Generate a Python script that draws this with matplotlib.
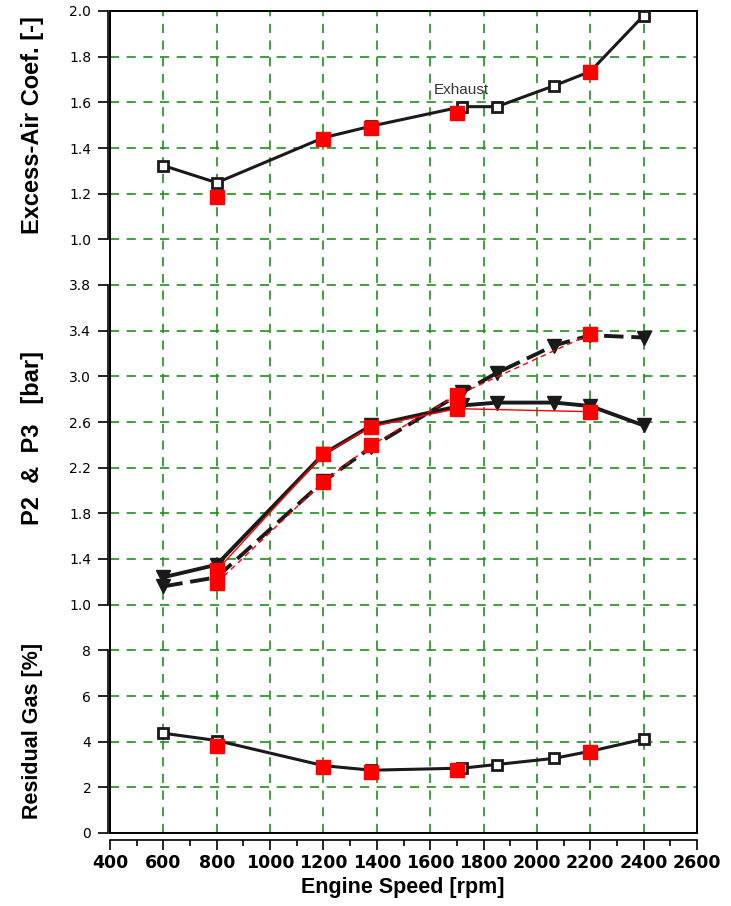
import matplotlib
matplotlib.use("Agg")
import matplotlib.pyplot as plt
from matplotlib.ticker import MultipleLocator

# --- data ---
x_black = [600, 800, 1200, 1380, 1720, 1850, 2065, 2200, 2400]
x_red = [800, 1200, 1380, 1700, 2200]

lam_black = [1.323, 1.248, 1.445, 1.496, 1.581, 1.581, 1.673, 1.735, 1.98]
lam_red = [1.184, 1.44, 1.488, 1.552, 1.734]

p2_black = [1.24, 1.35, 2.32, 2.57, 2.745, 2.77, 2.77, 2.74, 2.57]
p3_black = [1.16, 1.24, 2.08, 2.38, 2.86, 3.03, 3.27, 3.36, 3.34]
p2_red = [1.30, 2.316, 2.56, 2.717, 2.69]
p3_red = [1.19, 2.077, 2.397, 2.834, 3.37]

rg_black = [4.37, 4.05, 2.95, 2.75, 2.84, 3.0, 3.27, 3.58, 4.11]
rg_red = [3.80, 2.87, 2.65, 2.77, 3.55]

x_ticks = list(range(400, 2601, 200))
lam_ticks = [1.0, 1.2, 1.4, 1.6, 1.8, 2.0]
p_ticks = [1.0, 1.4, 1.8, 2.2, 2.6, 3.0, 3.4, 3.8]
rg_ticks = [0, 2, 4, 6, 8]

# --- layout (pixels of a 731x906 canvas) ---
W, H = 731, 906
left, right, top, bottom = 110, 697, 11, 833
unit = (bottom - top) / 18.0
GREEN = "#1f8f1f"
TICK_FONT = dict(family="DejaVu Sans", weight="bold", size=12.5)
LABEL_FONT = dict(family=["Liberation Sans", "DejaVu Sans"], weight="bold")


def rect(u0, u1):
    # band between grid units u0..u1 (0 = bottom of box)
    y0 = bottom - u1 * unit
    y1 = bottom - u0 * unit
    return [left / W, 1 - y1 / H, (right - left) / W, (y1 - y0) / H]


fig = plt.figure(figsize=(W / 100, H / 100), dpi=100)

# background: frame + green grid running through all panels
bg = fig.add_axes(rect(0, 18))
bg.set_xlim(400, 2600)
bg.set_ylim(0, 18)
for xv in range(600, 2401, 200):
    bg.axvline(xv, color=GREEN, lw=1.2, dashes=(5.5, 4.5))
for yv in range(1, 18):
    bg.axhline(yv, color=GREEN, lw=1.2, dashes=(5.5, 4.5))
bg.set_xticks([])
bg.set_yticks([])
for sp in bg.spines.values():
    sp.set_linewidth(1.4)


def data_axes(u0, u1, ylim, yticks):
    ax = fig.add_axes(rect(u0, u1))
    ax.set_facecolor("none")
    ax.set_xlim(400, 2600)
    ax.set_ylim(*ylim)
    ax.set_yticks(yticks)
    ax.set_yticklabels([f"{t:.1f}" if isinstance(t, float) else str(t) for t in yticks],
                       fontdict=TICK_FONT)
    for name in ("top", "right", "bottom"):
        ax.spines[name].set_visible(False)
    ax.spines["left"].set_position(("outward", 1.5))
    ax.spines["left"].set_linewidth(1.2)
    ax.tick_params(axis="y", direction="out", length=7, width=1.2, pad=5)
    ax.tick_params(axis="x", bottom=False, labelbottom=False)
    return ax


ax1 = data_axes(13, 18, (1.0, 2.0), lam_ticks)
ax2 = data_axes(5, 12, (1.0, 3.8), p_ticks)
ax3 = data_axes(0, 4, (0, 8), rg_ticks)

# x axis under the frame
ax3.spines["bottom"].set_visible(True)
ax3.spines["bottom"].set_position(("outward", 5))
ax3.spines["bottom"].set_linewidth(1.2)
ax3.set_xticks(x_ticks)
ax3.set_xticklabels([str(t) for t in x_ticks], fontdict=TICK_FONT)
ax3.xaxis.set_minor_locator(MultipleLocator(100))
ax3.tick_params(axis="x", which="major", bottom=True, labelbottom=True,
                direction="out", length=7, width=1.2, pad=3)
ax3.tick_params(axis="x", which="minor", bottom=True, direction="out",
                length=4.5, width=1.2)

black_sq = dict(color="#1a1a1a", lw=2.2, marker="s", ms=6.5, mfc="white",
                mec="#1a1a1a", mew=2.0, clip_on=False, zorder=3)
red_sq = dict(ls="none", marker="s", ms=9.5, color="red", mec="red",
              clip_on=False, zorder=5)

# excess-air coefficient
ax1.plot(x_black, lam_black, **black_sq)
ax1.plot(x_red, lam_red, **red_sq)
ax1.text(1715, 1.655, "Exhaust", fontsize=11, color="#333333",
         family="Liberation Sans", ha="center", va="center")

# P2 & P3
ax2.plot(x_black, p2_black, color="#1a1a1a", lw=2.8, marker="v", ms=9.5,
         clip_on=False, zorder=3)
ax2.plot(x_black, p3_black, color="#1a1a1a", lw=2.8, dashes=(5, 2),
         marker="v", ms=9.5, clip_on=False, zorder=3)
ax2.plot(x_red, p2_red, color="red", lw=1.0, zorder=4)
ax2.plot(x_red, p3_red, color="red", lw=1.0, dashes=(4, 3), zorder=4)
ax2.plot(x_red, p2_red, **red_sq)
ax2.plot(x_red, p3_red, **red_sq)

# residual gas
ax3.plot(x_black, rg_black, **black_sq)
ax3.plot(x_red, rg_red, **red_sq)


# axis titles
def band_center(u0, u1):
    return 1 - (bottom - (u0 + u1) / 2 * unit) / H


fig.text(33 / W, band_center(13, 18), "Excess-Air Coef. [-]", rotation=90,
         ha="center", va="center", fontsize=17, **LABEL_FONT)
fig.text(33 / W, 1 - 438 / H, "P2  &  P3   [bar]", rotation=90,
         ha="center", va="center", fontsize=17, **LABEL_FONT)
fig.text(33 / W, 1 - 731 / H, "Residual Gas [%]", rotation=90,
         ha="center", va="center", fontsize=15.5, **LABEL_FONT)
fig.text(403 / W, 1 - 888 / H, "Engine Speed [rpm]", ha="center",
         va="center", fontsize=15.5, **LABEL_FONT)

fig.savefig("out.png", dpi=100)
